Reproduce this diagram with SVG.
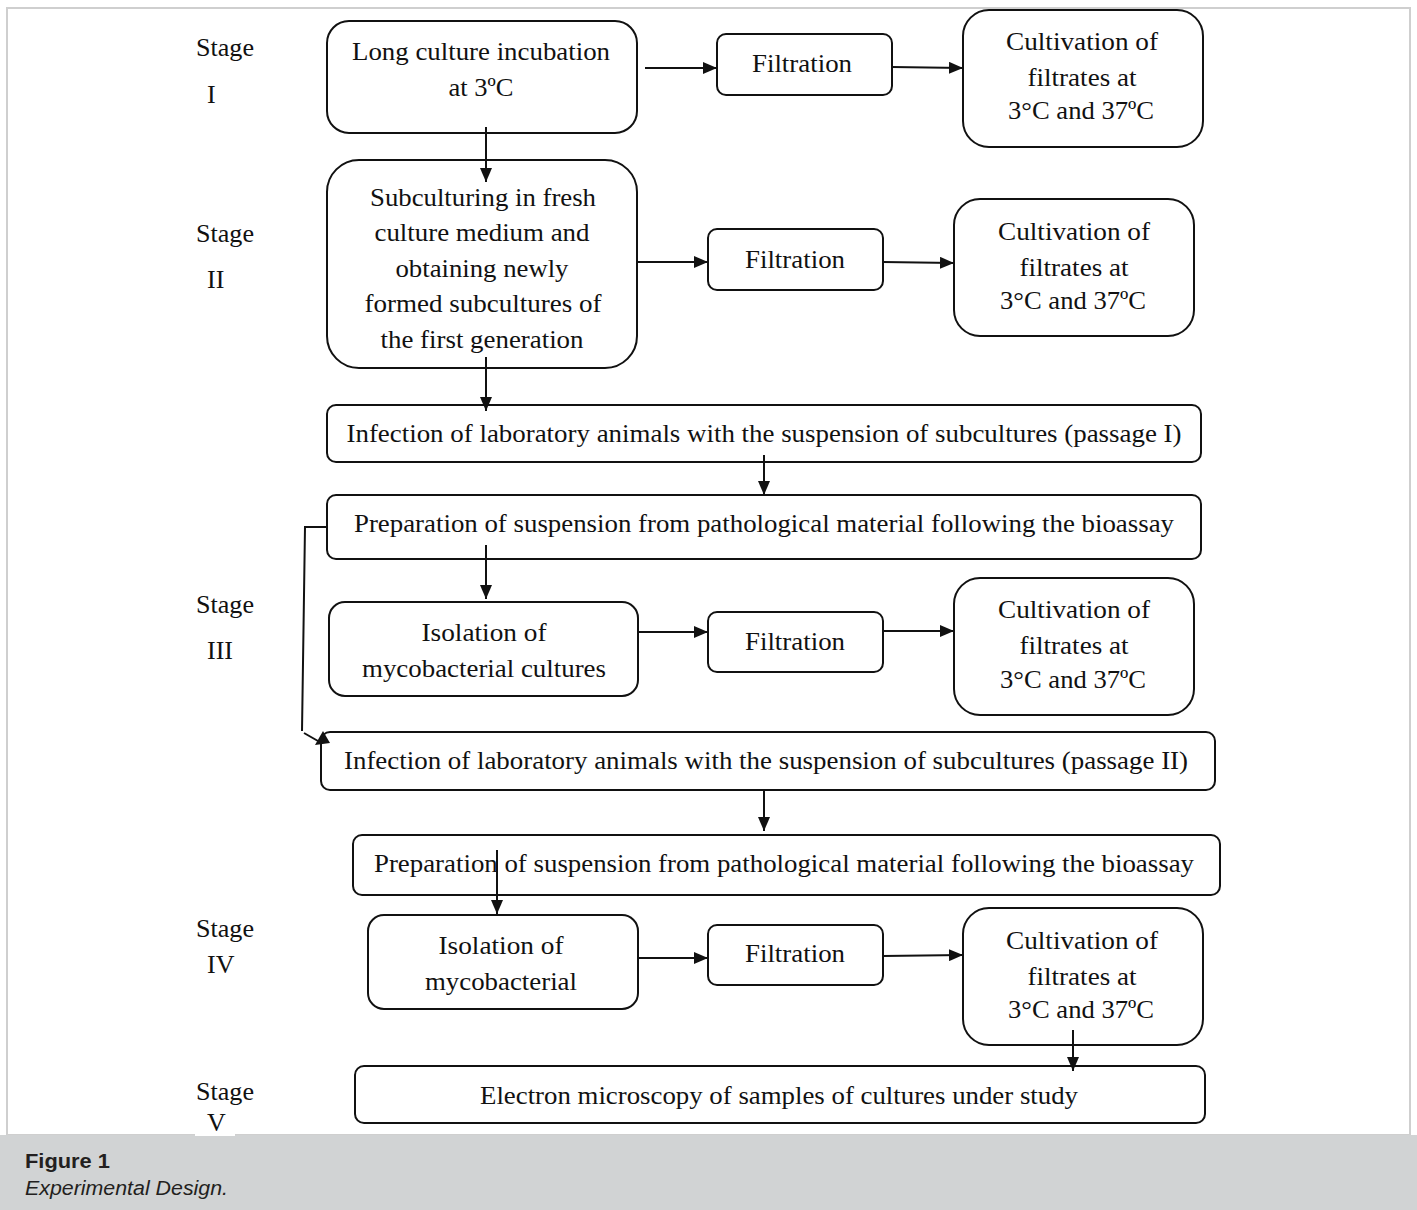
<svg xmlns="http://www.w3.org/2000/svg" width="1417" height="1210" viewBox="0 0 1417 1210">
<defs>
<marker id="ah" markerWidth="14" markerHeight="12" refX="14" refY="6" orient="auto" markerUnits="userSpaceOnUse">
<path d="M0,0 L14,6 L0,12 Z" fill="#111"/>
</marker>
<style>
.box{fill:#fff;stroke:#111;stroke-width:2}
.t{font-family:"Liberation Serif","Times New Roman",serif;font-size:26px;fill:#111;text-anchor:middle}
.st{font-family:"Liberation Serif","Times New Roman",serif;font-size:26px;fill:#111}
.c{fill:none;stroke:#111;stroke-width:2}
.ca{fill:none;stroke:#111;stroke-width:2;marker-end:url(#ah)}
</style>
</defs>
<rect x="0" y="0" width="1417" height="1210" fill="#fff"/>
<rect x="7" y="8" width="1403" height="1127" fill="#fff" stroke="#cfcfcf" stroke-width="2"/>
<rect x="0" y="1135" width="1417" height="75" fill="#d1d3d4"/>
<rect x="195" y="1128" width="40" height="8" fill="#fff"/>

<g id="stages">
<text class="st" x="196" y="56" textLength="58" lengthAdjust="spacingAndGlyphs">Stage</text>
<text class="st" x="207" y="103">I</text>
<text class="st" x="196" y="242" textLength="58" lengthAdjust="spacingAndGlyphs">Stage</text>
<text class="st" x="207" y="288">II</text>
<text class="st" x="196" y="613" textLength="58" lengthAdjust="spacingAndGlyphs">Stage</text>
<text class="st" x="207" y="659">III</text>
<text class="st" x="196" y="937" textLength="58" lengthAdjust="spacingAndGlyphs">Stage</text>
<text class="st" x="207" y="973">IV</text>
<text class="st" x="196" y="1100" textLength="58" lengthAdjust="spacingAndGlyphs">Stage</text>
<text class="st" x="207" y="1131">V</text>
</g>

<g id="n1"><rect class="box" x="327" y="21" width="310" height="112" rx="22"/>
<text class="t" x="481" y="60" textLength="258" lengthAdjust="spacingAndGlyphs">Long culture incubation</text>
<text class="t" x="481" y="96" textLength="65" lengthAdjust="spacingAndGlyphs">at 3ºC</text></g>
<g id="n2"><rect class="box" x="717" y="34" width="175" height="61" rx="9"/>
<text class="t" x="802" y="72" textLength="100" lengthAdjust="spacingAndGlyphs">Filtration</text></g>
<g id="n3"><rect class="box" x="963" y="10" width="240" height="137" rx="26"/>
<text class="t" x="1082" y="50" textLength="152" lengthAdjust="spacingAndGlyphs">Cultivation of</text>
<text class="t" x="1082" y="86" textLength="109" lengthAdjust="spacingAndGlyphs">filtrates at</text>
<text class="t" x="1081" y="119" textLength="146" lengthAdjust="spacingAndGlyphs">3°C and 37ºC</text></g>

<g id="n4"><rect class="box" x="327" y="160" width="310" height="208" rx="32"/>
<text class="t" x="483" y="206" textLength="226" lengthAdjust="spacingAndGlyphs">Subculturing in fresh</text>
<text class="t" x="482" y="241" textLength="215" lengthAdjust="spacingAndGlyphs">culture medium and</text>
<text class="t" x="482" y="277" textLength="173" lengthAdjust="spacingAndGlyphs">obtaining newly</text>
<text class="t" x="483" y="312" textLength="237" lengthAdjust="spacingAndGlyphs">formed subcultures of</text>
<text class="t" x="482" y="348" textLength="203" lengthAdjust="spacingAndGlyphs">the first generation</text></g>
<g id="n5"><rect class="box" x="708" y="229" width="175" height="61" rx="9"/>
<text class="t" x="795" y="268" textLength="100" lengthAdjust="spacingAndGlyphs">Filtration</text></g>
<g id="n6"><rect class="box" x="954" y="199" width="240" height="137" rx="26"/>
<text class="t" x="1074" y="240" textLength="152" lengthAdjust="spacingAndGlyphs">Cultivation of</text>
<text class="t" x="1074" y="276" textLength="109" lengthAdjust="spacingAndGlyphs">filtrates at</text>
<text class="t" x="1073" y="309" textLength="146" lengthAdjust="spacingAndGlyphs">3°C and 37ºC</text></g>

<g id="n7"><rect class="box" x="327" y="405" width="874" height="57" rx="9"/>
<text class="t" x="764" y="442" textLength="835" lengthAdjust="spacingAndGlyphs">Infection of laboratory animals with the suspension of subcultures (passage I)</text></g>
<g id="n8"><rect class="box" x="327" y="495" width="874" height="64" rx="9"/>
<text class="t" x="764" y="532" textLength="820" lengthAdjust="spacingAndGlyphs">Preparation of suspension from pathological material following the bioassay</text></g>

<g id="n9"><rect class="box" x="329" y="602" width="309" height="94" rx="16"/>
<text class="t" x="484" y="641" textLength="125" lengthAdjust="spacingAndGlyphs">Isolation of</text>
<text class="t" x="484" y="677" textLength="244" lengthAdjust="spacingAndGlyphs">mycobacterial cultures</text></g>
<g id="n10"><rect class="box" x="708" y="612" width="175" height="60" rx="9"/>
<text class="t" x="795" y="650" textLength="100" lengthAdjust="spacingAndGlyphs">Filtration</text></g>
<g id="n11"><rect class="box" x="954" y="578" width="240" height="137" rx="26"/>
<text class="t" x="1074" y="618" textLength="152" lengthAdjust="spacingAndGlyphs">Cultivation of</text>
<text class="t" x="1074" y="654" textLength="109" lengthAdjust="spacingAndGlyphs">filtrates at</text>
<text class="t" x="1073" y="688" textLength="146" lengthAdjust="spacingAndGlyphs">3°C and 37ºC</text></g>

<g id="n12"><rect class="box" x="321" y="732" width="894" height="58" rx="9"/>
<text class="t" x="766" y="769" textLength="844" lengthAdjust="spacingAndGlyphs">Infection of laboratory animals with the suspension of subcultures (passage II)</text></g>
<g id="n13"><rect class="box" x="353" y="835" width="867" height="60" rx="9"/>
<text class="t" x="784" y="872" textLength="820" lengthAdjust="spacingAndGlyphs">Preparation of suspension from pathological material following the bioassay</text></g>

<g id="n14"><rect class="box" x="368" y="915" width="270" height="94" rx="16"/>
<text class="t" x="501" y="954" textLength="125" lengthAdjust="spacingAndGlyphs">Isolation of</text>
<text class="t" x="501" y="990" textLength="152" lengthAdjust="spacingAndGlyphs">mycobacterial</text></g>
<g id="n15"><rect class="box" x="708" y="925" width="175" height="60" rx="9"/>
<text class="t" x="795" y="962" textLength="100" lengthAdjust="spacingAndGlyphs">Filtration</text></g>
<g id="n16"><rect class="box" x="963" y="908" width="240" height="137" rx="26"/>
<text class="t" x="1082" y="949" textLength="152" lengthAdjust="spacingAndGlyphs">Cultivation of</text>
<text class="t" x="1082" y="985" textLength="109" lengthAdjust="spacingAndGlyphs">filtrates at</text>
<text class="t" x="1081" y="1018" textLength="146" lengthAdjust="spacingAndGlyphs">3°C and 37ºC</text></g>

<g id="n17"><rect class="box" x="355" y="1066" width="850" height="57" rx="9"/>
<text class="t" x="779" y="1104" textLength="598" lengthAdjust="spacingAndGlyphs">Electron microscopy of samples of cultures under study</text></g>

<g id="connectors">
<line class="ca" x1="645" y1="68" x2="717" y2="68"/>
<line class="ca" x1="892" y1="67" x2="963" y2="68"/>
<line class="ca" x1="486" y1="127" x2="486" y2="182"/>
<line class="ca" x1="637" y1="262" x2="708" y2="262"/>
<line class="ca" x1="883" y1="262" x2="954" y2="263"/>
<line class="ca" x1="486" y1="357" x2="486" y2="411"/>
<line class="ca" x1="764" y1="455" x2="764" y2="495"/>
<line class="ca" x1="486" y1="545" x2="486" y2="599"/>
<line class="ca" x1="638" y1="632" x2="708" y2="632"/>
<line class="ca" x1="883" y1="631" x2="954" y2="631"/>
<polyline class="c" points="327,527 305,527 302,731"/>
<line class="c" x1="304" y1="733" x2="318" y2="741"/>
<polygon points="323,731 315,745 330,743" fill="#111"/>
<line class="ca" x1="764" y1="790" x2="764" y2="831"/>
<line class="ca" x1="497" y1="850" x2="497" y2="914"/>
<line class="ca" x1="638" y1="958" x2="708" y2="958"/>
<line class="ca" x1="883" y1="956" x2="963" y2="955"/>
<line class="ca" x1="1073" y1="1030" x2="1073" y2="1071"/>
</g>

<g id="caption">
<text x="25" y="1168" font-family="'Liberation Sans',Arial,sans-serif" font-weight="bold" font-size="21" fill="#231f20" textLength="85" lengthAdjust="spacingAndGlyphs">Figure 1</text>
<text x="25" y="1195" font-family="'Liberation Sans',Arial,sans-serif" font-style="italic" font-size="20" fill="#231f20" textLength="203" lengthAdjust="spacingAndGlyphs">Experimental Design.</text>
</g>
</svg>
